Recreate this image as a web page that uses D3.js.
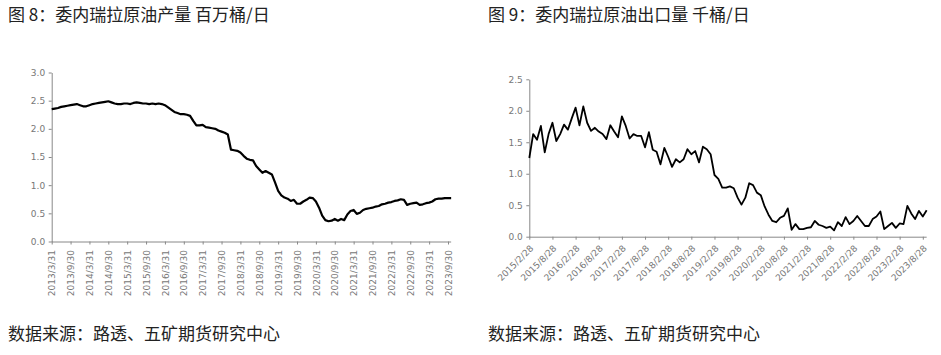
<!DOCTYPE html>
<html><head><meta charset="utf-8">
<script src="https://cdn.jsdelivr.net/npm/d3@7/dist/d3.min.js"></script>
<style>
body{margin:0;background:#fff;}
svg{display:block;}
.ttl{font-family:"Noto Sans CJK SC","Noto Sans",sans-serif;font-size:17px;fill:#222;}
.ax text{font-family:"DejaVu Sans",sans-serif;font-size:9px;fill:#777;}
.ax path,.ax line{stroke:#888;stroke-width:1;}
</style></head><body>
<script>
// ---------- data ----------
const leftTitle = "图 8：委内瑞拉原油产量 百万桶/日";
const rightTitle = "图 9：委内瑞拉原油出口量 千桶/日";
const sourceText = "数据来源：路透、五矿期货研究中心";

// Monthly, 2013/3 .. 2023/10 (million bbl/day)
const productionValues = [
2.35,2.36,2.37,2.39,2.40,2.41,2.42,2.43,2.44,2.42,2.40,2.40,2.42,2.44,2.45,2.46,2.47,2.48,2.49,2.47,
2.45,2.44,2.44,2.45,2.45,2.44,2.46,2.47,2.46,2.45,2.45,2.44,2.45,2.44,2.45,2.44,2.42,2.38,2.34,2.30,
2.28,2.26,2.26,2.25,2.23,2.14,2.06,2.06,2.07,2.03,2.02,2.01,2.00,1.97,1.95,1.93,1.90,1.63,1.62,1.61,
1.58,1.52,1.47,1.45,1.44,1.34,1.28,1.22,1.25,1.22,1.19,1.05,0.90,0.82,0.78,0.76,0.72,0.74,0.67,0.67,
0.71,0.74,0.78,0.77,0.71,0.60,0.46,0.38,0.36,0.37,0.40,0.37,0.40,0.38,0.48,0.54,0.56,0.49,0.51,0.56,
0.58,0.59,0.60,0.62,0.63,0.66,0.67,0.69,0.70,0.72,0.73,0.75,0.74,0.65,0.67,0.68,0.69,0.65,0.66,0.68,
0.69,0.71,0.75,0.76,0.76,0.77,0.77,0.77];
const productionTickLabels = ["2013/3/31","2013/9/30","2014/3/31","2014/9/30","2015/3/31","2015/9/30",
"2016/3/31","2016/9/30","2017/3/31","2017/9/30","2018/3/31","2018/9/30","2019/3/31","2019/9/30",
"2020/3/31","2020/9/30","2021/3/31","2021/9/30","2022/3/31","2022/9/30","2023/3/31","2023/9/30"];
const productionYTicks = [0,0.5,1.0,1.5,2.0,2.5,3.0];

// Monthly, 2015/2 .. 2023/9
const exportValues = [
1.25,1.63,1.54,1.76,1.34,1.63,1.81,1.52,1.63,1.78,1.70,1.88,2.05,1.77,2.07,1.81,1.68,1.73,1.67,1.63,
1.55,1.77,1.67,1.58,1.91,1.76,1.56,1.63,1.60,1.60,1.42,1.66,1.38,1.35,1.15,1.41,1.27,1.11,1.23,1.18,
1.23,1.39,1.31,1.36,1.18,1.43,1.39,1.31,0.98,0.92,0.78,0.78,0.80,0.77,0.62,0.51,0.62,0.85,0.82,0.70,
0.66,0.48,0.35,0.25,0.23,0.30,0.33,0.45,0.11,0.20,0.12,0.12,0.14,0.15,0.25,0.19,0.17,0.14,0.16,0.10,
0.23,0.17,0.31,0.20,0.25,0.33,0.25,0.17,0.17,0.28,0.32,0.40,0.12,0.17,0.22,0.14,0.21,0.20,0.49,0.37,
0.28,0.41,0.32,0.42];
const exportTickLabels = ["2015/2/28","2015/8/28","2016/2/28","2016/8/28","2017/2/28","2017/8/28",
"2018/2/28","2018/8/28","2019/2/28","2019/8/28","2020/2/28","2020/8/28","2021/2/28","2021/8/28",
"2022/2/28","2022/8/28","2023/2/28","2023/8/28"];
const exportYTicks = [0,0.5,1.0,1.5,2.0,2.5];

// ---------- drawing ----------
const svg = d3.select("body").append("svg").attr("width",941).attr("height",355);
svg.append("rect").attr("width",941).attr("height",355).attr("fill","#fff");

function chart(opt){
  const g = svg.append("g");
  const n = opt.values.length;
  const x = d3.scaleLinear().domain([0, opt.tickMonths]).range([opt.x0, opt.xTickEnd]);
  const y = d3.scaleLinear().domain([0, opt.yMax]).range([opt.y0, opt.yTop]);
  const tickIdx = opt.tickLabels.map((d,i)=>i*6);

  const xa = g.append("g").attr("class","ax").attr("transform",`translate(0,${opt.y0})`)
    .call(d3.axisBottom(x).tickValues(tickIdx).tickFormat((d,i)=>opt.tickLabels[i]).tickSize(3).tickSizeOuter(0));
  xa.select(".domain").attr("d",`M${opt.x0},0.5H${x(n-1)}`);
  if(opt.rot===-90){
    xa.selectAll("text").attr("text-anchor","end").attr("dy","0.35em").attr("y",0).attr("x",0)
      .attr("transform",`translate(0,8.5) rotate(-90)`);
  } else {
    xa.selectAll("text").attr("text-anchor","end").attr("dy","0.35em").attr("y",0).attr("x",0)
      .attr("transform",`translate(2,10) rotate(-45)`);
  }
  g.append("g").attr("class","ax").attr("transform",`translate(${opt.x0},0)`)
    .call(d3.axisLeft(y).tickValues(opt.yTicks).tickFormat(d3.format(".1f")).tickSize(3).tickPadding(3.5).tickSizeOuter(0));

  g.append("path").datum(opt.values)
    .attr("fill","none").attr("stroke","#000").attr("stroke-width",opt.sw)
    .attr("stroke-linejoin","round")
    .attr("d", d3.line().x((d,i)=>x(i)).y(d=>y(d)));

  svg.append("text").attr("class","ttl").attr("x",opt.tx).attr("y",21).text(opt.title);
  svg.append("text").attr("class","ttl").attr("x",opt.tx).attr("y",340).text(sourceText);
}

chart({values:productionValues, tickLabels:productionTickLabels, yTicks:productionYTicks, yMax:3.0,
  x0:51.7, xTickEnd:448, tickMonths:126, y0:241.5, yTop:72.5, rot:-90, sw:2.2, title:leftTitle, tx:8});
chart({values:exportValues, tickLabels:exportTickLabels, yTicks:exportYTicks, yMax:2.5,
  x0:529.3, xTickEnd:922.8, tickMonths:102, y0:236.7, yTop:79.3, rot:-45, sw:1.8, title:rightTitle, tx:488});
</script>
</body></html>
